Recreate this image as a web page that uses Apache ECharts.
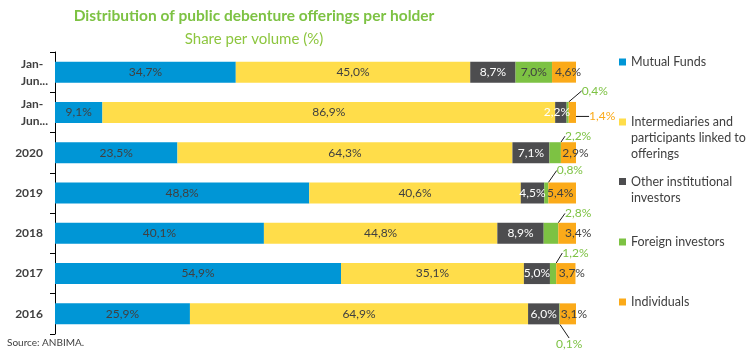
<!DOCTYPE html>
<html>
<head>
<meta charset="utf-8">
<script src="https://cdn.jsdelivr.net/npm/echarts@6/dist/echarts.min.js"></script>
<style>html,body{margin:0;padding:0;background:#fff}#c{width:750px;height:355px}</style>
</head>
<body>
<div id="c"></div>
<script>
const categories = ['Jan-Jun...', 'Jan-Jun...', '2020', '2019', '2018', '2017', '2016'];
const seriesNames = ['Mutual Funds', 'Intermediaries and participants linked to offerings', 'Other institutional investors', 'Foreign investors', 'Individuals'];
const mutualFunds = [34.7, 9.1, 23.5, 48.8, 40.1, 54.9, 25.9];
const intermediaries = [45.0, 86.9, 64.3, 40.6, 44.8, 35.1, 64.9];
const otherInstitutional = [8.7, 2.2, 7.1, 4.5, 8.9, 5.0, 6.0];
const foreignInvestors = [7.0, 0.4, 2.2, 0.8, 2.8, 1.2, 0.1];
const individuals = [4.6, 1.4, 2.9, 5.4, 3.4, 3.7, 3.1];

const colors = ['#0096D6', '#FFDD4A', '#4D4D4F', '#7DC243', '#FBAA19'];
const dark = '#404040';
const FONT = 'Lato';

// label placement styles (offsets relative to segment centre; anchor: top / bottom / mid of bar)
const foreignOutside = {
  1: {anchor: 'top', lx: 14, ly: -11, pts: [[0, 0], [1, -13.8], [6.7, -13.8]]},
  2: {anchor: 'top', lx: 9.8, ly: -6, pts: [[-1.2, 0], [-1.2, -7.6], [4.8, -7.6]]},
  3: {anchor: 'top', lx: 10.4, ly: -12, pts: [[-2.3, 0], [0.4, -13], [6.4, -13]]},
  4: {anchor: 'top', lx: 14, ly: -9.4, pts: [[-2, 0], [4, -11.1], [9, -11.1]]},
  5: {anchor: 'top', lx: 9.2, ly: -10, pts: [[-0.8, 0], [-0.8, -12.2], [3.6, -12.2]]},
  6: {anchor: 'bottom', lx: -3.6, ly: 19.7, pts: [[-0.3, 2], [9.7, 12], [9.7, 12]]}
};
const individualsOutside = {
  1: {anchor: 'mid', lx: 16.7, ly: 4, pts: [[2, 0], [4.4, 2.4], [11, 2.4]]}
};
const individualsShift = {0: 4, 2: 7, 3: -2, 4: 11, 5: 6, 6: 6};
const otherShift = {1: -4};

function fmt(v) { return v.toFixed(1).replace('.', ',') + '%'; }

const chart = echarts.init(document.getElementById('c'), null, {renderer: 'canvas'});

function makeLayout(outside, shift) {
  return function (p) {
    const i = p.dataIndex;
    const r = p.rect;
    const cx = r.x + r.width / 2;
    const o = outside && outside[i];
    if (o) {
      const ay = o.anchor === 'top' ? r.y : (o.anchor === 'bottom' ? r.y + r.height : r.y + r.height / 2);
      return {
        x: cx + o.lx, y: ay + o.ly, align: 'left', verticalAlign: 'middle',
        labelLinePoints: o.pts.map(pt => [cx + pt[0], ay + pt[1]])
      };
    }
    if (shift && shift[i] !== undefined) return {dx: shift[i]};
    return {};
  };
}

function makeSeries(idx, values, textColor, outside, shift) {
  return {
    name: seriesNames[idx],
    type: 'bar',
    stack: 'total',
    barWidth: 21,
    itemStyle: {color: colors[idx]},
    label: {show: true, position: 'inside', color: textColor, fontFamily: FONT, fontSize: 12, formatter: p => fmt(p.value)},
    data: values.map((v, i) => {
      if (outside && outside[i]) {
        return {value: v, label: {color: colors[idx]}, labelLine: {show: true, lineStyle: {color: '#1a1a1a', width: 1}}};
      }
      return v;
    }),
    labelLayout: (outside || shift) ? makeLayout(outside, shift) : null
  };
}

// legend icon whose square sits at the first text line
function iconFor(lines) {
  const h = 7 + (lines - 1) * 16;
  return lines > 1 ? 'path://M0,0h7v7h-7zM0,' + h + 'h7' : 'rect';
}

function legendAt(name, top, lines) {
  const n = lines ? lines.length : 1;
  return {
    data: [name], orient: 'vertical', left: 619, top: top, padding: 0,
    itemWidth: 7, itemHeight: 7 + (n - 1) * 16, icon: iconFor(n),
    selectedMode: false,
    formatter: lines ? () => lines.join('\n') : undefined,
    textStyle: {color: dark, fontFamily: FONT, fontSize: 12.5, lineHeight: 16}
  };
}

chart.setOption({
  animation: false,
  color: colors,
  title: {
    text: 'Distribution of public debenture offerings per holder',
    subtext: 'Share per volume (%)',
    left: 249, top: 3, textAlign: 'center', itemGap: 8,
    textStyle: {color: '#7DC243', fontFamily: FONT, fontWeight: 'bold', fontSize: 15.5},
    subtextStyle: {color: '#8DC63F', fontFamily: FONT, fontSize: 15}
  },
  grid: {left: 55, right: 174, top: 52, bottom: 21},
  xAxis: {type: 'value', min: 0, max: 100, show: false},
  yAxis: {
    type: 'category', inverse: true, data: categories,
    axisLine: {lineStyle: {color: '#000', width: 1}},
    axisTick: {show: true, length: 5, lineStyle: {color: '#000'}},
    axisLabel: {
      margin: 5, align: 'right',
      formatter: v => v.startsWith('Jan-') ? '{j|Jan-}\n{j|' + v.slice(4) + '}' : '{y|' + v + '}',
      rich: {
        j: {width: 29, align: 'left', fontFamily: FONT, fontWeight: 'bold', fontSize: 12, color: dark, lineHeight: 17},
        y: {padding: [0, 7, 0, 0], fontFamily: FONT, fontWeight: 'bold', fontSize: 12, color: dark}
      }
    }
  },
  legend: [
    legendAt(seriesNames[0], 54, null),
    legendAt(seriesNames[1], 114, ['Intermediaries and', 'participants linked to', 'offerings']),
    legendAt(seriesNames[2], 173.5, ['Other institutional', 'investors']),
    legendAt(seriesNames[3], 234, null),
    legendAt(seriesNames[4], 294, null)
  ],
  graphic: [{type: 'text', left: 7, top: 338, style: {text: 'Source: ANBIMA.', fill: dark, font: '10px Lato'}}],
  series: [
    makeSeries(0, mutualFunds, dark, null, null),
    makeSeries(1, intermediaries, dark, null, null),
    makeSeries(2, otherInstitutional, '#ffffff', null, otherShift),
    makeSeries(3, foreignInvestors, dark, foreignOutside, null),
    makeSeries(4, individuals, dark, individualsOutside, individualsShift)
  ]
});
</script>
</body>
</html>
